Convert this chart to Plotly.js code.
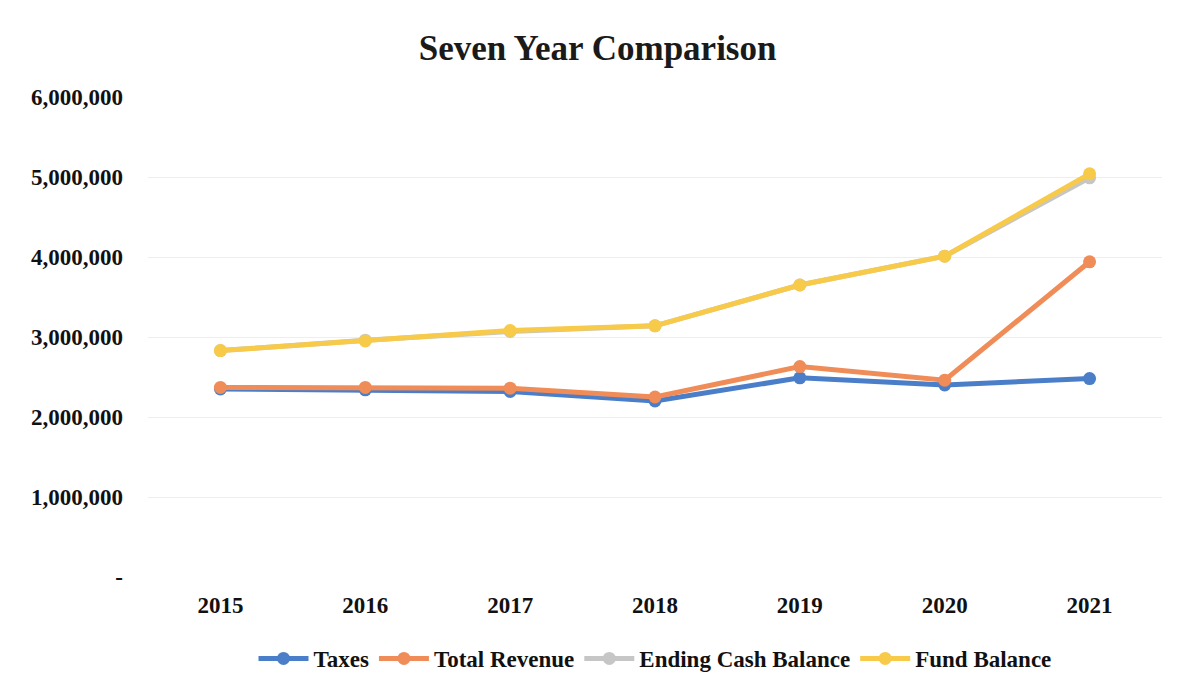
<!DOCTYPE html>
<html>
<head>
<meta charset="utf-8">
<script src="https://cdn.plot.ly/plotly-3.0.1.min.js"></script>
<style>html,body{margin:0;padding:0;background:#fff;}#chart{width:1188px;height:696px;}</style>
</head>
<body>
<div id="chart"></div>
<script>
const years = ["2015", "2016", "2017", "2018", "2019", "2020", "2021"];
const taxes = [2350000, 2340000, 2320000, 2200000, 2490000, 2400000, 2480000];
const totalRevenue = [2370000, 2370000, 2360000, 2250000, 2630000, 2460000, 3940000];
const endingCashBalance = [2830000, 2960000, 3070000, 3140000, 3650000, 4010000, 4990000];
const fundBalance = [2830000, 2950000, 3080000, 3140000, 3650000, 4010000, 5040000];
const yTickVals = [0, 1000000, 2000000, 3000000, 4000000, 5000000, 6000000];
const yTickText = ["-", "1,000,000", "2,000,000", "3,000,000", "4,000,000", "5,000,000", "6,000,000"];

const serif = "Liberation Serif, Times New Roman, serif";
function tr(name, y, color) {
  return {
    type: "scatter", mode: "lines+markers", name: name, x: years, y: y,
    line: {color: color, width: 5},
    marker: {color: color, size: 13}
  };
}
const data = [
  tr("Taxes", taxes, "#4a7ec9"),
  tr("Total Revenue", totalRevenue, "#f08c58"),
  tr("Ending Cash Balance", endingCashBalance, "#c6c6c6"),
  tr("Fund Balance", fundBalance, "#f8ca4a")
];
const layout = {
  width: 1188, height: 696,
  margin: {l: 148, r: 26, t: 97, b: 119},
  paper_bgcolor: "#ffffff", plot_bgcolor: "#ffffff",
  title: {text: "Seven Year Comparison", x: 0.503, xanchor: "center", y: 0.932, yanchor: "middle",
          font: {family: serif, size: 35, color: "#1a1a1a", weight: "bold"}},
  xaxis: {type: "category", range: [-0.5, 6.5], showgrid: false, zeroline: false, showline: false,
          ticks: "", tickfont: {family: serif, size: 23, color: "#111", weight: "bold"},
          automargin: false, ticklabelstandoff: 12},
  yaxis: {range: [0, 6000000], tickvals: yTickVals, ticktext: yTickText,
          showgrid: true, gridcolor: "#eeeeee", gridwidth: 1, zeroline: false, showline: false,
          ticks: "", tickfont: {family: serif, size: 23, color: "#111", weight: "bold"},
          automargin: false, ticklabelstandoff: 24},
  showlegend: true,
  legend: {orientation: "h", x: 0.5, xanchor: "center", y: -0.125, yanchor: "top",
           font: {family: serif, size: 23, color: "#111", weight: "bold"},
           itemwidth: 50, tracegroupgap: 0},
  hovermode: false
};
Plotly.newPlot("chart", data, layout, {displayModeBar: false, staticPlot: true});
</script>
</body>
</html>
